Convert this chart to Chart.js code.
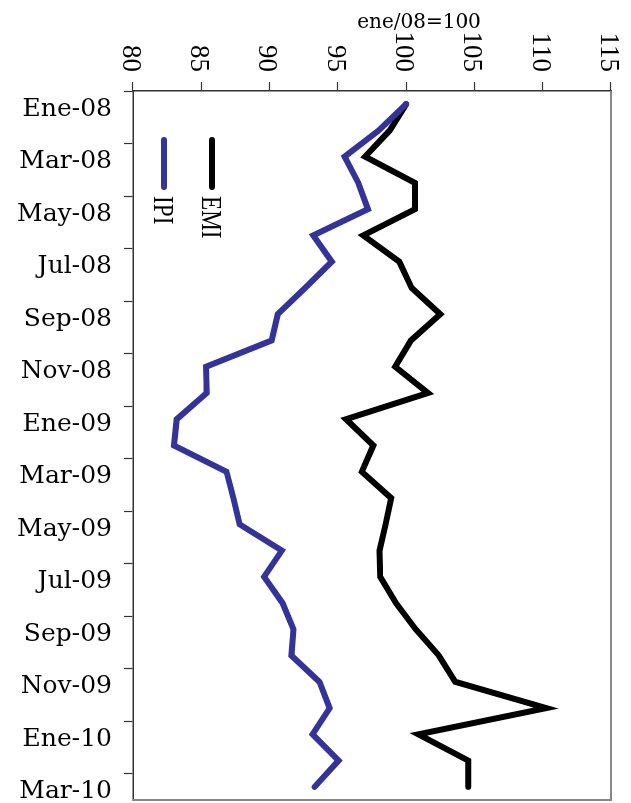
<!DOCTYPE html>
<html>
<head>
<meta charset="utf-8">
<script src="https://cdn.jsdelivr.net/npm/chart.js@4.4.1/dist/chart.umd.min.js"></script>
<style>
html,body{margin:0;padding:0;background:#fff;overflow:hidden;}
/* el gráfico se dibuja "acostado" y se gira 90° */
#wrap{position:absolute;left:0;top:0;width:803px;height:631px;transform-origin:0 0;transform:translateX(631px) rotate(90deg);}
#chart{display:block;}
</style>
</head>
<body>
<div id="wrap"><canvas id="chart" width="803" height="631"></canvas></div>
<script>
// meses
const months = [
  'Ene-08','Feb-08','Mar-08','Abr-08','May-08','Jun-08','Jul-08','Ago-08','Sep-08','Oct-08','Nov-08','Dic-08',
  'Ene-09','Feb-09','Mar-09','Abr-09','May-09','Jun-09','Jul-09','Ago-09','Sep-09','Oct-09','Nov-09','Dic-09',
  'Ene-10','Feb-10','Mar-10'
];

// series (ene/08=100)
const ipi = [100.0, 98.0, 95.5, 96.5, 97.2, 93.2, 94.55, 92.6, 90.6, 90.15, 85.35, 85.4, 83.2, 83.0,
  86.85, 87.35, 87.8, 90.9, 89.6, 90.95, 91.75, 91.6, 93.65, 94.4, 93.15, 95.05, 93.3];
const emi = [100.0, 98.8, 97.0, 100.65, 100.65, 96.85, 99.5, 100.4, 102.5, 100.35, 99.2, 101.6, 95.6, 97.6,
  96.75, 98.9, 98.5, 98.05, 98.1, 99.25, 100.7, 102.4, 103.6, 110.25, 100.9, 104.55, 104.55];

// eje de valores
const yMin = 80, yMax = 115, yStep = 5;
const axisTitle = 'ene/08=100';

// marco gris arriba y a la derecha
const frame = {
  id: 'frame',
  afterDraw(chart) {
    const {ctx, chartArea: a} = chart;
    ctx.save();
    ctx.strokeStyle = '#888';
    ctx.lineWidth = 2;
    ctx.beginPath();
    ctx.moveTo(a.left, a.top);
    ctx.lineTo(a.right, a.top);
    ctx.lineTo(a.right, a.bottom);
    ctx.stroke();
    ctx.restore();
  }
};

// título del eje (vertical)
const yTitle = {
  id: 'yTitle',
  afterDraw(chart) {
    const ctx = chart.ctx;
    ctx.save();
    ctx.translate(28, 212);
    ctx.rotate(-Math.PI / 2);
    ctx.font = '20px "DejaVu Serif"';
    ctx.fillStyle = '#000';
    ctx.textAlign = 'center';
    ctx.textBaseline = 'alphabetic';
    ctx.fillText(axisTitle, 0, 0);
    ctx.restore();
  }
};

// leyenda dentro del área
const insideLegend = {
  id: 'insideLegend',
  afterDatasetsDraw(chart) {
    const {ctx, chartArea: a} = chart;
    chart.data.datasets.forEach((ds, i) => {
      const y = a.bottom - 31 - i * 48;
      ctx.save();
      ctx.strokeStyle = ds.borderColor;
      ctx.lineWidth = 6;
      ctx.lineCap = 'round';
      ctx.beginPath();
      ctx.moveTo(a.left + 49, y);
      ctx.lineTo(a.left + 96, y);
      ctx.stroke();
      ctx.translate(a.left + 105, y + 10);
      ctx.scale(0.8, 1);
      ctx.font = '29px "Liberation Serif"';
      ctx.fillStyle = '#000';
      ctx.textBaseline = 'alphabetic';
      ctx.fillText(ds.label, 0, 0);
      ctx.restore();
    });
  }
};

const ctx = document.getElementById('chart').getContext('2d');
new Chart(ctx, {
  type: 'line',
  data: {
    labels: months,
    datasets: [
      {label: 'IPI', data: ipi, borderColor: '#333399', borderWidth: 6, pointRadius: 0,
       borderCapStyle: 'round', borderJoinStyle: 'miter', tension: 0},
      {label: 'EMI', data: emi, borderColor: '#000000', borderWidth: 6, pointRadius: 0,
       borderCapStyle: 'round', borderJoinStyle: 'miter', tension: 0}
    ]
  },
  options: {
    responsive: false,
    animation: false,
    devicePixelRatio: 1,
    layout: {padding: {top: 20, right: 3, left: 0, bottom: 0}},
    plugins: {legend: {display: false}, tooltip: {enabled: false}},
    scales: {
      x: {
        type: 'category',
        offset: true,
        afterFit(s) { s.height = 133; s.paddingLeft = 0; s.paddingRight = 0; },
        border: {color: '#333', width: 1.5},
        grid: {
          offset: true,
          drawOnChartArea: false,
          drawTicks: true,
          tickLength: 9,
          tickWidth: 1.2,
          tickColor: c => c.index % 2 === 0 ? '#333' : 'rgba(0,0,0,0)'
        },
        ticks: {
          autoSkip: false,
          minRotation: 90,
          maxRotation: 90,
          padding: 12,
          labelOffset: 5,
          color: '#000',
          font: {family: 'DejaVu Serif', size: 25},
          callback: function (v, i) { return i % 2 === 0 ? this.getLabelForValue(v) : ''; }
        }
      },
      y: {
        min: yMin,
        max: yMax,
        afterFit(s) { s.width = 91; s.paddingTop = 0; s.paddingBottom = 0; },
        border: {color: '#333', width: 1.5},
        grid: {drawOnChartArea: false, drawTicks: true, tickLength: 9, tickWidth: 1.2, tickColor: '#333'},
        ticks: {
          stepSize: yStep,
          padding: 10,
          labelOffset: 3,
          color: '#000',
          font: {family: 'Liberation Serif', size: 27}
        }
      }
    }
  },
  plugins: [frame, yTitle, insideLegend]
});
</script>
</body>
</html>
